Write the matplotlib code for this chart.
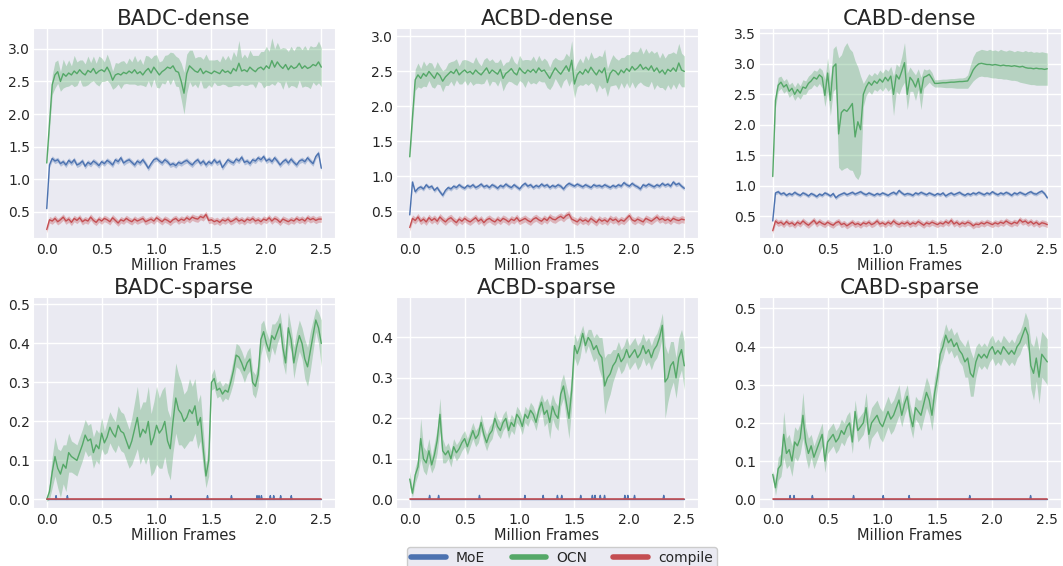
import numpy as np
import matplotlib
matplotlib.use("Agg")
import matplotlib.pyplot as plt
from matplotlib.lines import Line2D
import seaborn as sns

# ---------------- data ----------------
X_START, X_END = 0.0, 2.5          # million frames, samples every 0.025
SERIES = ["MoE", "OCN", "compile"]
TITLES = ["BADC-dense", "ACBD-dense", "CABD-dense",
          "BADC-sparse", "ACBD-sparse", "CABD-sparse"]
XTICKS = [0.0, 0.5, 1.0, 1.5, 2.0, 2.5]

# ---- BADC-dense ----
BADC_DENSE_OCN = [
    1.25, 1.85, 2.45, 2.60, 2.65, 2.50, 2.62, 2.58, 2.63, 2.60,
    2.66, 2.62, 2.68, 2.63, 2.60, 2.67, 2.64, 2.70, 2.62, 2.66,
    2.68, 2.65, 2.72, 2.64, 2.52, 2.60, 2.62, 2.60, 2.64, 2.62,
    2.66, 2.63, 2.68, 2.62, 2.65, 2.60, 2.66, 2.70, 2.63, 2.72,
    2.66, 2.60, 2.65, 2.68, 2.72, 2.70, 2.74, 2.66, 2.64, 2.50,
    2.32, 2.62, 2.74, 2.70, 2.66, 2.64, 2.70, 2.62, 2.66, 2.64,
    2.62, 2.66, 2.64, 2.62, 2.68, 2.64, 2.66, 2.62, 2.70, 2.66,
    2.78, 2.66, 2.68, 2.65, 2.72, 2.68, 2.65, 2.70, 2.72, 2.68,
    2.74, 2.70, 2.82, 2.72, 2.80, 2.74, 2.70, 2.76, 2.68, 2.74,
    2.70, 2.72, 2.78, 2.70, 2.74, 2.70, 2.72, 2.76, 2.74, 2.80,
    2.72]
BADC_DENSE_OCN_HW = [
    0.05, 0.10, 0.15, 0.20, 0.18, 0.15, 0.22, 0.16, 0.20, 0.14,
    0.24, 0.18, 0.15, 0.20, 0.17, 0.22, 0.15, 0.19, 0.16, 0.23,
    0.18, 0.15, 0.20, 0.17, 0.14, 0.19, 0.16, 0.21, 0.18, 0.15,
    0.20, 0.17, 0.22, 0.18, 0.20, 0.16, 0.24, 0.19, 0.22, 0.18,
    0.25, 0.20, 0.17, 0.22, 0.19, 0.25, 0.20, 0.23, 0.22, 0.28,
    0.32, 0.30, 0.24, 0.28, 0.20, 0.24, 0.18, 0.22, 0.26, 0.19,
    0.21, 0.17, 0.20, 0.18, 0.22, 0.19, 0.24, 0.20, 0.26, 0.22,
    0.35, 0.20, 0.24, 0.21, 0.26, 0.22, 0.25, 0.20, 0.24, 0.28,
    0.30, 0.26, 0.35, 0.28, 0.30, 0.26, 0.32, 0.25, 0.28, 0.30,
    0.27, 0.32, 0.26, 0.29, 0.31, 0.28, 0.33, 0.27, 0.30, 0.32,
    0.30]
BADC_DENSE_MOE = [
    0.55, 1.22, 1.32, 1.28, 1.30, 1.24, 1.27, 1.22, 1.29, 1.25,
    1.30, 1.22, 1.24, 1.28, 1.20, 1.26, 1.23, 1.28, 1.25, 1.21,
    1.27, 1.24, 1.29, 1.26, 1.22, 1.30, 1.27, 1.33, 1.25, 1.28,
    1.30, 1.26, 1.22, 1.28, 1.25, 1.30, 1.24, 1.17, 1.24, 1.30,
    1.32, 1.28, 1.25, 1.30, 1.27, 1.22, 1.24, 1.21, 1.26, 1.24,
    1.27, 1.29, 1.25, 1.22, 1.27, 1.30, 1.24, 1.28, 1.22, 1.27,
    1.24, 1.30, 1.25, 1.28, 1.18, 1.24, 1.30, 1.27, 1.25, 1.31,
    1.28, 1.34, 1.26, 1.28, 1.24, 1.30, 1.28, 1.33, 1.30, 1.35,
    1.28, 1.31, 1.27, 1.33, 1.28, 1.22, 1.27, 1.30, 1.25, 1.31,
    1.26, 1.22, 1.28, 1.30, 1.27, 1.33, 1.28, 1.24, 1.35, 1.40,
    1.17]
BADC_DENSE_COMPILE = [
    0.23, 0.38, 0.36, 0.40, 0.35, 0.38, 0.42, 0.36, 0.39, 0.34,
    0.40, 0.37, 0.41, 0.35, 0.38, 0.36, 0.42, 0.37, 0.34, 0.39,
    0.36, 0.40, 0.38, 0.35, 0.41, 0.37, 0.33, 0.38, 0.36, 0.40,
    0.37, 0.35, 0.39, 0.36, 0.38, 0.40, 0.35, 0.37, 0.39, 0.36,
    0.41, 0.38, 0.35, 0.39, 0.37, 0.34, 0.38, 0.40, 0.36, 0.39,
    0.37, 0.41, 0.38, 0.42, 0.40, 0.39, 0.43, 0.41, 0.46, 0.37,
    0.38, 0.35, 0.37, 0.34, 0.38, 0.36, 0.39, 0.35, 0.37, 0.40,
    0.36, 0.38, 0.35, 0.39, 0.37, 0.40, 0.36, 0.38, 0.35, 0.39,
    0.37, 0.41, 0.36, 0.40, 0.38, 0.34, 0.39, 0.37, 0.35, 0.38,
    0.36, 0.40, 0.37, 0.39, 0.36, 0.41, 0.38, 0.40, 0.37, 0.39,
    0.39]

# ---- ACBD-dense ----
ACBD_DENSE_OCN = [
    1.28, 1.85, 2.38, 2.45, 2.40, 2.47, 2.43, 2.50, 2.45, 2.40,
    2.48, 2.44, 2.36, 2.42, 2.46, 2.50, 2.47, 2.53, 2.45, 2.49,
    2.52, 2.48, 2.50, 2.46, 2.52, 2.48, 2.45, 2.50, 2.55, 2.47,
    2.52, 2.49, 2.46, 2.53, 2.40, 2.47, 2.50, 2.54, 2.48, 2.45,
    2.55, 2.50, 2.47, 2.52, 2.49, 2.53, 2.48, 2.55, 2.50, 2.52,
    2.46, 2.40, 2.48, 2.55, 2.50, 2.46, 2.52, 2.58, 2.50, 2.66,
    2.32, 2.45, 2.50, 2.46, 2.53, 2.48, 2.56, 2.50, 2.45, 2.52,
    2.48, 2.55, 2.34, 2.47, 2.52, 2.50, 2.45, 2.52, 2.48, 2.54,
    2.50, 2.57, 2.52, 2.55, 2.60, 2.53, 2.56, 2.52, 2.58, 2.50,
    2.55, 2.48, 2.52, 2.46, 2.53, 2.50, 2.55, 2.50, 2.62, 2.52,
    2.50]
ACBD_DENSE_OCN_HW = [
    0.08, 0.12, 0.15, 0.17, 0.14, 0.18, 0.15, 0.13, 0.17, 0.14,
    0.16, 0.13, 0.15, 0.12, 0.16, 0.14, 0.18, 0.15, 0.13, 0.17,
    0.15, 0.18, 0.14, 0.16, 0.19, 0.15, 0.13, 0.17, 0.15, 0.18,
    0.16, 0.14, 0.17, 0.15, 0.18, 0.16, 0.14, 0.19, 0.16, 0.15,
    0.18, 0.16, 0.20, 0.15, 0.17, 0.19, 0.16, 0.18, 0.15, 0.17,
    0.19, 0.16, 0.18, 0.15, 0.17, 0.20, 0.16, 0.18, 0.21, 0.28,
    0.20, 0.17, 0.19, 0.16, 0.20, 0.18, 0.22, 0.19, 0.25, 0.21,
    0.23, 0.27, 0.20, 0.18, 0.22, 0.19, 0.21, 0.18, 0.22, 0.20,
    0.24, 0.22, 0.26, 0.23, 0.25, 0.22, 0.27, 0.24, 0.22, 0.26,
    0.24, 0.21, 0.25, 0.23, 0.22, 0.26, 0.23, 0.25, 0.28, 0.24,
    0.22]
ACBD_DENSE_MOE = [
    0.45, 0.92, 0.78, 0.83, 0.85, 0.82, 0.88, 0.84, 0.86, 0.80,
    0.84, 0.78, 0.73, 0.80, 0.84, 0.82, 0.86, 0.84, 0.88, 0.85,
    0.83, 0.87, 0.85, 0.88, 0.84, 0.86, 0.89, 0.85, 0.87, 0.84,
    0.88, 0.86, 0.83, 0.87, 0.85, 0.89, 0.86, 0.84, 0.88, 0.85,
    0.82, 0.87, 0.90, 0.86, 0.88, 0.84, 0.87, 0.85, 0.89, 0.86,
    0.88, 0.84, 0.87, 0.85, 0.88, 0.86, 0.82, 0.87, 0.90, 0.88,
    0.86, 0.89, 0.87, 0.85, 0.88, 0.86, 0.84, 0.88, 0.86, 0.87,
    0.85, 0.88, 0.86, 0.84, 0.87, 0.85, 0.88, 0.86, 0.91, 0.88,
    0.86, 0.90, 0.87, 0.85, 0.82, 0.88, 0.86, 0.89, 0.87, 0.85,
    0.88, 0.86, 0.90, 0.87, 0.89, 0.86, 0.92, 0.88, 0.90, 0.86,
    0.83]
ACBD_DENSE_COMPILE = [
    0.27, 0.40, 0.37, 0.42, 0.36, 0.39, 0.35, 0.41, 0.37, 0.40,
    0.36, 0.42, 0.38, 0.35, 0.39, 0.41, 0.37, 0.34, 0.39, 0.36,
    0.40, 0.37, 0.35, 0.38, 0.41, 0.36, 0.39, 0.34, 0.38, 0.40,
    0.37, 0.35, 0.39, 0.36, 0.40, 0.38, 0.35, 0.39, 0.37, 0.41,
    0.36, 0.38, 0.40, 0.37, 0.35, 0.39, 0.41, 0.38, 0.36, 0.40,
    0.37, 0.42, 0.39, 0.38, 0.41, 0.43, 0.40, 0.44, 0.46, 0.39,
    0.37, 0.35, 0.39, 0.36, 0.38, 0.35, 0.40, 0.37, 0.34, 0.39,
    0.36, 0.38, 0.35, 0.40, 0.37, 0.39, 0.35, 0.38, 0.36, 0.40,
    0.44, 0.38, 0.36, 0.39, 0.37, 0.35, 0.40, 0.38, 0.36, 0.39,
    0.42, 0.38, 0.40, 0.37, 0.39, 0.36, 0.40, 0.38, 0.37, 0.39,
    0.38]

# ---- CABD-dense (band given as explicit low / high edges) ----
CABD_DENSE_OCN = [
    1.15, 2.40, 2.65, 2.70, 2.62, 2.66, 2.55, 2.60, 2.50, 2.58,
    2.52, 2.62, 2.60, 2.68, 2.72, 2.78, 2.75, 2.82, 2.78, 2.48,
    2.85, 2.40, 2.95, 3.00, 1.85, 2.20, 2.25, 2.22, 2.28, 2.35,
    1.80, 2.05, 1.92, 2.50, 2.62, 2.70, 2.65, 2.72, 2.68, 2.75,
    2.70, 2.78, 2.72, 2.80, 2.50, 2.82, 2.75, 2.88, 3.02, 2.50,
    2.78, 2.72, 2.62, 2.76, 2.52, 2.78, 2.80, 2.83, 2.76, 2.68,
    2.68, 2.685, 2.69, 2.69, 2.695, 2.70, 2.70, 2.705, 2.71, 2.71,
    2.715, 2.72, 2.80, 2.90, 2.96, 3.00, 3.01, 3.00, 2.99, 2.99,
    2.98, 2.99, 2.98, 2.97, 2.98, 2.97, 2.97, 2.96, 2.97, 2.96,
    2.95, 2.96, 2.94, 2.93, 2.93, 2.92, 2.93, 2.92, 2.92, 2.91,
    2.92]
CABD_DENSE_OCN_LO = [
    1.10, 2.28, 2.55, 2.60, 2.52, 2.56, 2.45, 2.50, 2.40, 2.47,
    2.42, 2.50, 2.50, 2.58, 2.60, 2.66, 2.62, 2.68, 2.60, 2.30,
    2.55, 2.15, 2.55, 2.60, 1.30, 1.25, 1.28, 1.30, 1.26, 1.25,
    1.15, 1.10, 1.20, 2.30, 2.48, 2.55, 2.50, 2.58, 2.55, 2.60,
    2.55, 2.62, 2.55, 2.60, 2.15, 2.55, 2.50, 2.62, 2.70, 2.25,
    2.55, 2.55, 2.40, 2.58, 2.25, 2.60, 2.65, 2.70, 2.65, 2.62,
    2.62, 2.62, 2.615, 2.61, 2.61, 2.61, 2.605, 2.60, 2.60, 2.60,
    2.60, 2.60, 2.66, 2.72, 2.76, 2.79, 2.80, 2.79, 2.79, 2.78,
    2.77, 2.77, 2.76, 2.76, 2.75, 2.75, 2.74, 2.73, 2.73, 2.72,
    2.70, 2.69, 2.68, 2.67, 2.66, 2.66, 2.65, 2.65, 2.65, 2.65,
    2.65]
CABD_DENSE_OCN_HI = [
    1.28, 2.52, 2.78, 2.80, 2.72, 2.76, 2.66, 2.70, 2.62, 2.70,
    2.64, 2.74, 2.72, 2.80, 2.84, 2.90, 2.88, 2.94, 2.90, 2.75,
    3.10, 2.70, 3.25, 3.30, 3.10, 3.15, 3.28, 3.35, 3.25, 3.20,
    3.05, 2.95, 2.80, 2.68, 2.76, 2.84, 2.80, 2.86, 2.82, 2.90,
    2.85, 2.92, 2.88, 2.96, 2.80, 3.00, 2.95, 3.12, 3.35, 2.85,
    2.95, 2.88, 2.82, 2.92, 2.78, 2.92, 2.90, 2.92, 2.86, 2.74,
    2.74, 2.745, 2.75, 2.75, 2.755, 2.76, 2.76, 2.765, 2.77, 2.77,
    2.78, 2.82, 2.98, 3.12, 3.20, 3.22, 3.24, 3.23, 3.22, 3.24,
    3.22, 3.23, 3.21, 3.24, 3.22, 3.21, 3.23, 3.22, 3.20, 3.22,
    3.21, 3.20, 3.22, 3.20, 3.21, 3.19, 3.20, 3.19, 3.20, 3.19,
    3.18]
CABD_DENSE_MOE = [
    0.42, 0.88, 0.90, 0.86, 0.88, 0.84, 0.87, 0.85, 0.89, 0.86,
    0.84, 0.88, 0.86, 0.83, 0.87, 0.85, 0.82, 0.86, 0.84, 0.88,
    0.86, 0.83, 0.87, 0.80, 0.84, 0.86, 0.88, 0.85, 0.87, 0.89,
    0.86, 0.88, 0.90, 0.87, 0.85, 0.88, 0.86, 0.84, 0.87, 0.85,
    0.88, 0.86, 0.84, 0.87, 0.89, 0.86, 0.92, 0.88, 0.85, 0.87,
    0.86, 0.84, 0.88, 0.86, 0.89, 0.87, 0.85, 0.88, 0.86, 0.84,
    0.87, 0.85, 0.88, 0.83, 0.86, 0.88, 0.85, 0.87, 0.89, 0.86,
    0.84, 0.87, 0.85, 0.88, 0.86, 0.89, 0.87, 0.85, 0.88, 0.86,
    0.90, 0.87, 0.85, 0.88, 0.86, 0.89, 0.87, 0.84, 0.88, 0.86,
    0.89, 0.87, 0.85, 0.88, 0.90, 0.87, 0.86, 0.89, 0.91, 0.87,
    0.80]
CABD_DENSE_COMPILE = [
    0.26, 0.42, 0.38, 0.40, 0.36, 0.41, 0.37, 0.39, 0.35, 0.40,
    0.37, 0.42, 0.38, 0.35, 0.39, 0.43, 0.37, 0.41, 0.38, 0.36,
    0.40, 0.37, 0.35, 0.39, 0.41, 0.36, 0.38, 0.34, 0.37, 0.40,
    0.36, 0.38, 0.35, 0.39, 0.37, 0.40, 0.36, 0.38, 0.42, 0.37,
    0.39, 0.36, 0.40, 0.37, 0.42, 0.38, 0.36, 0.39, 0.37, 0.40,
    0.36, 0.39, 0.37, 0.41, 0.38, 0.35, 0.39, 0.37, 0.40, 0.38,
    0.36, 0.39, 0.37, 0.41, 0.38, 0.43, 0.37, 0.40, 0.36, 0.39,
    0.37, 0.40, 0.38, 0.34, 0.37, 0.36, 0.39, 0.37, 0.40, 0.38,
    0.36, 0.39, 0.37, 0.40, 0.38, 0.42, 0.39, 0.37, 0.40, 0.38,
    0.44, 0.40, 0.42, 0.38, 0.41, 0.37, 0.40, 0.36, 0.39, 0.38,
    0.36]

# band half-widths for MoE / compile in the dense tasks
DENSE_MOE_HW = [0.04, 0.03, 0.03]
DENSE_COMPILE_HW = [0.05, 0.05, 0.05]

# ---- sparse tasks: OCN curve, MoE mostly zero with tiny spikes, compile zero ----
BADC_SPARSE_OCN = [
    0.00, 0.02, 0.07, 0.11, 0.08, 0.065, 0.09, 0.08, 0.12, 0.11,
    0.105, 0.10, 0.12, 0.14, 0.165, 0.15, 0.155, 0.12, 0.14, 0.13,
    0.17, 0.145, 0.16, 0.185, 0.17, 0.16, 0.19, 0.175, 0.17, 0.15,
    0.13, 0.15, 0.18, 0.21, 0.16, 0.18, 0.17, 0.20, 0.14, 0.16,
    0.19, 0.17, 0.18, 0.20, 0.15, 0.13, 0.20, 0.26, 0.23, 0.22,
    0.20, 0.21, 0.23, 0.22, 0.24, 0.19, 0.21, 0.13, 0.06, 0.10,
    0.30, 0.31, 0.28, 0.285, 0.27, 0.28, 0.275, 0.30, 0.33, 0.37,
    0.365, 0.35, 0.33, 0.35, 0.36, 0.30, 0.29, 0.32, 0.41, 0.43,
    0.40, 0.38, 0.42, 0.41, 0.43, 0.45, 0.39, 0.35, 0.44, 0.41,
    0.35, 0.39, 0.42, 0.40, 0.36, 0.34, 0.38, 0.42, 0.46, 0.44,
    0.40]
BADC_SPARSE_OCN_HW = [
    0.005, 0.02, 0.04, 0.05, 0.05, 0.06, 0.05, 0.06, 0.05, 0.04,
    0.04, 0.04, 0.04, 0.04, 0.04, 0.04, 0.04, 0.04, 0.04, 0.04,
    0.04, 0.03, 0.04, 0.04, 0.04, 0.04, 0.05, 0.05, 0.05, 0.05,
    0.05, 0.06, 0.07, 0.08, 0.07, 0.07, 0.08, 0.09, 0.08, 0.09,
    0.10, 0.09, 0.10, 0.09, 0.08, 0.08, 0.08, 0.09, 0.09, 0.08,
    0.07, 0.07, 0.08, 0.07, 0.07, 0.06, 0.06, 0.05, 0.03, 0.04,
    0.02, 0.025, 0.02, 0.02, 0.02, 0.02, 0.02, 0.025, 0.03, 0.03,
    0.03, 0.03, 0.03, 0.03, 0.03, 0.03, 0.03, 0.03, 0.04, 0.03,
    0.03, 0.03, 0.03, 0.04, 0.03, 0.03, 0.04, 0.03, 0.04, 0.03,
    0.04, 0.04, 0.04, 0.04, 0.05, 0.05, 0.05, 0.04, 0.03, 0.04,
    0.06]
BADC_SPARSE_MOE_SPIKES = [0.085, 0.188, 1.13, 1.464, 1.682, 1.915, 1.933,
                          1.955, 2.036, 2.067, 2.13, 2.227]

ACBD_SPARSE_OCN = [
    0.05, 0.015, 0.06, 0.08, 0.15, 0.10, 0.09, 0.12, 0.085, 0.11,
    0.145, 0.21, 0.12, 0.11, 0.12, 0.10, 0.13, 0.115, 0.125, 0.14,
    0.15, 0.13, 0.15, 0.17, 0.15, 0.16, 0.19, 0.16, 0.14, 0.16,
    0.17, 0.20, 0.18, 0.17, 0.19, 0.20, 0.17, 0.19, 0.18, 0.21,
    0.20, 0.18, 0.21, 0.20, 0.22, 0.21, 0.19, 0.22, 0.24, 0.21,
    0.22, 0.19, 0.23, 0.21, 0.20, 0.26, 0.28, 0.24, 0.20, 0.27,
    0.38, 0.36, 0.38, 0.41, 0.38, 0.40, 0.39, 0.37, 0.38, 0.36,
    0.35, 0.28, 0.30, 0.31, 0.33, 0.34, 0.36, 0.34, 0.35, 0.37,
    0.35, 0.36, 0.37, 0.35, 0.36, 0.38, 0.36, 0.37, 0.35, 0.37,
    0.38, 0.40, 0.43, 0.29, 0.30, 0.33, 0.34, 0.30, 0.35, 0.37,
    0.33]
ACBD_SPARSE_OCN_HW = [
    0.02, 0.01, 0.02, 0.02, 0.05, 0.03, 0.03, 0.03, 0.02, 0.03,
    0.03, 0.04, 0.03, 0.02, 0.02, 0.02, 0.02, 0.02, 0.02, 0.02,
    0.02, 0.02, 0.02, 0.02, 0.02, 0.02, 0.02, 0.02, 0.02, 0.02,
    0.02, 0.02, 0.02, 0.02, 0.02, 0.02, 0.02, 0.02, 0.02, 0.02,
    0.02, 0.02, 0.02, 0.02, 0.02, 0.02, 0.02, 0.02, 0.02, 0.03,
    0.03, 0.04, 0.03, 0.03, 0.03, 0.03, 0.03, 0.04, 0.05, 0.04,
    0.03, 0.03, 0.03, 0.02, 0.02, 0.02, 0.03, 0.03, 0.03, 0.04,
    0.05, 0.07, 0.06, 0.05, 0.04, 0.03, 0.03, 0.03, 0.03, 0.03,
    0.03, 0.03, 0.03, 0.03, 0.03, 0.03, 0.03, 0.03, 0.03, 0.03,
    0.03, 0.03, 0.03, 0.09, 0.06, 0.06, 0.05, 0.05, 0.05, 0.05,
    0.06]
ACBD_SPARSE_MOE_SPIKES = [0.181, 0.263, 0.635, 1.049, 1.215, 1.345, 1.384,
                          1.557, 1.663, 1.687, 1.735, 1.774, 1.959, 1.986,
                          2.047, 2.313]

CABD_SPARSE_OCN = [
    0.065, 0.03, 0.08, 0.09, 0.17, 0.12, 0.13, 0.10, 0.15, 0.14,
    0.16, 0.22, 0.15, 0.12, 0.14, 0.11, 0.13, 0.15, 0.17, 0.10,
    0.15, 0.16, 0.17, 0.15, 0.16, 0.18, 0.17, 0.19, 0.20, 0.15,
    0.23, 0.18, 0.19, 0.20, 0.24, 0.17, 0.20, 0.21, 0.22, 0.20,
    0.19, 0.21, 0.23, 0.21, 0.22, 0.24, 0.26, 0.22, 0.25, 0.27,
    0.22, 0.19, 0.24, 0.23, 0.22, 0.25, 0.28, 0.26, 0.22, 0.28,
    0.32, 0.38, 0.40, 0.43, 0.41, 0.42, 0.40, 0.41, 0.39, 0.38,
    0.36, 0.37, 0.33, 0.32, 0.36, 0.38, 0.37, 0.38, 0.37, 0.39,
    0.40, 0.38, 0.39, 0.38, 0.40, 0.39, 0.38, 0.39, 0.38, 0.40,
    0.41, 0.43, 0.45, 0.43, 0.35, 0.33, 0.37, 0.32, 0.38, 0.37,
    0.36]
CABD_SPARSE_OCN_HW = [
    0.01, 0.02, 0.03, 0.03, 0.06, 0.04, 0.04, 0.04, 0.04, 0.04,
    0.04, 0.06, 0.04, 0.04, 0.03, 0.03, 0.03, 0.03, 0.03, 0.03,
    0.03, 0.03, 0.03, 0.03, 0.03, 0.03, 0.03, 0.03, 0.03, 0.03,
    0.03, 0.03, 0.03, 0.03, 0.04, 0.04, 0.04, 0.04, 0.04, 0.04,
    0.04, 0.04, 0.04, 0.04, 0.04, 0.04, 0.04, 0.03, 0.03, 0.03,
    0.03, 0.03, 0.03, 0.03, 0.04, 0.04, 0.04, 0.04, 0.04, 0.04,
    0.03, 0.03, 0.03, 0.03, 0.03, 0.03, 0.03, 0.03, 0.03, 0.03,
    0.04, 0.05, 0.06, 0.05, 0.04, 0.03, 0.03, 0.03, 0.03, 0.03,
    0.03, 0.03, 0.03, 0.03, 0.03, 0.03, 0.03, 0.03, 0.03, 0.03,
    0.03, 0.03, 0.04, 0.04, 0.06, 0.07, 0.06, 0.07, 0.06, 0.06,
    0.06]
CABD_SPARSE_MOE_SPIKES = [0.158, 0.194, 0.361, 0.736, 1.006, 1.242, 1.794, 2.348]

MOE_SPIKE_HEIGHT = 0.012          # height of the MoE blips in the sparse tasks
SPARSE_ZERO = [0.0, 0.0]          # compile / MoE baseline at both ends (0 and 2.5)

YLIMS = [(0.10, 3.32), (0.12, 3.12), (0.14, 3.59),
         (-0.022, 0.519), (-0.0215, 0.50), (-0.023, 0.53)]
YTICKS = [[0.5, 1.0, 1.5, 2.0, 2.5, 3.0],
          [0.5, 1.0, 1.5, 2.0, 2.5, 3.0],
          [0.5, 1.0, 1.5, 2.0, 2.5, 3.0, 3.5],
          [0.0, 0.1, 0.2, 0.3, 0.4, 0.5],
          [0.0, 0.1, 0.2, 0.3, 0.4],
          [0.0, 0.1, 0.2, 0.3, 0.4, 0.5]]

# ---------------- style ----------------
sns.set_style("darkgrid")
plt.rcParams["font.family"] = ["DejaVu Sans"]
plt.rcParams["grid.linewidth"] = 1.0
COLORS = {"MoE": "#4C72B0", "OCN": "#55A868", "compile": "#C44E52"}
BAND_ALPHA = 0.35
LW = 1.0

fig = plt.figure(figsize=(10.63, 5.66), dpi=100)
W, H = 1063.0, 566.0
lefts = [33, 396, 759]
axw = 302
rows = [(28, 238), (297, 508)]
axes = []
for r, (top, bot) in enumerate(rows):
    for c in range(3):
        ax = fig.add_axes([lefts[c] / W, 1 - bot / H, axw / W, (bot - top) / H])
        axes.append(ax)


def xgrid(y):
    return np.linspace(X_START, X_END, len(y))


def band(ax, y, lo, hi, color):
    x = xgrid(y)
    ax.fill_between(x, lo, hi, color=color, alpha=BAND_ALPHA, linewidth=0)
    ax.plot(x, y, color=color, lw=LW)


dense = [
    (BADC_DENSE_MOE, BADC_DENSE_OCN, BADC_DENSE_COMPILE),
    (ACBD_DENSE_MOE, ACBD_DENSE_OCN, ACBD_DENSE_COMPILE),
    (CABD_DENSE_MOE, CABD_DENSE_OCN, CABD_DENSE_COMPILE),
]
dense_ocn_bands = [
    (np.array(BADC_DENSE_OCN) - np.array(BADC_DENSE_OCN_HW),
     np.array(BADC_DENSE_OCN) + np.array(BADC_DENSE_OCN_HW)),
    (np.array(ACBD_DENSE_OCN) - np.array(ACBD_DENSE_OCN_HW),
     np.array(ACBD_DENSE_OCN) + np.array(ACBD_DENSE_OCN_HW)),
    (np.array(CABD_DENSE_OCN_LO), np.array(CABD_DENSE_OCN_HI)),
]

for i in range(3):
    ax = axes[i]
    moe, ocn, comp = dense[i]
    moe = np.array(moe); comp = np.array(comp)
    band(ax, ocn, dense_ocn_bands[i][0], dense_ocn_bands[i][1], COLORS["OCN"])
    band(ax, moe, moe - DENSE_MOE_HW[i], moe + DENSE_MOE_HW[i], COLORS["MoE"])
    band(ax, comp, comp - DENSE_COMPILE_HW[i], comp + DENSE_COMPILE_HW[i], COLORS["compile"])

sparse = [
    (BADC_SPARSE_OCN, BADC_SPARSE_OCN_HW, BADC_SPARSE_MOE_SPIKES),
    (ACBD_SPARSE_OCN, ACBD_SPARSE_OCN_HW, ACBD_SPARSE_MOE_SPIKES),
    (CABD_SPARSE_OCN, CABD_SPARSE_OCN_HW, CABD_SPARSE_MOE_SPIKES),
]
for i in range(3):
    ax = axes[3 + i]
    ocn, hw, spikes = sparse[i]
    ocn = np.array(ocn); hw = np.array(hw)
    band(ax, ocn, ocn - hw, ocn + hw, COLORS["OCN"])
    # MoE: zero line with small blips
    ax.plot([X_START, X_END], SPARSE_ZERO, color=COLORS["MoE"], lw=LW)
    for s in spikes:
        ax.fill([s - 0.012, s, s + 0.012], [0, MOE_SPIKE_HEIGHT, 0],
                color=COLORS["MoE"], alpha=0.45, lw=0)
        ax.plot([s - 0.006, s, s + 0.006], [0, MOE_SPIKE_HEIGHT * 0.8, 0],
                color=COLORS["MoE"], lw=LW)
    # compile: flat zero
    ax.plot([X_START, X_END], SPARSE_ZERO, color=COLORS["compile"], lw=1.2)

for i, ax in enumerate(axes):
    ax.set_title(TITLES[i], fontsize=15.5, pad=2, color=".15")
    ax.set_xlim(X_START - 0.125, X_END + 0.125)
    ax.set_ylim(*YLIMS[i])
    ax.set_xticks(XTICKS)
    ax.set_xticklabels([f"{t:.1f}" for t in XTICKS])
    ax.set_yticks(YTICKS[i])
    ax.set_yticklabels([f"{t:.1f}" for t in YTICKS[i]])
    ax.tick_params(axis="both", labelsize=10, colors=".15", length=0)
    ax.tick_params(axis="y", pad=2)
    ax.tick_params(axis="x", pad=3.5)
    ax.set_xlabel("Million Frames", fontsize=10.5, labelpad=1, color=".15")

handles = [Line2D([0], [0], color=COLORS[s], lw=4) for s in SERIES]
fig.legend(handles, SERIES, loc="upper center", ncol=3, fontsize=10,
           bbox_to_anchor=(562 / W, 1 - 547 / H), borderaxespad=0.0,
           handlelength=2.5, handletextpad=0.7, columnspacing=1.9,
           frameon=True, facecolor="#EAEAF2", edgecolor="#CCCCCC",
           framealpha=1.0, borderpad=0.3)

fig.savefig("out.png", dpi=100)
